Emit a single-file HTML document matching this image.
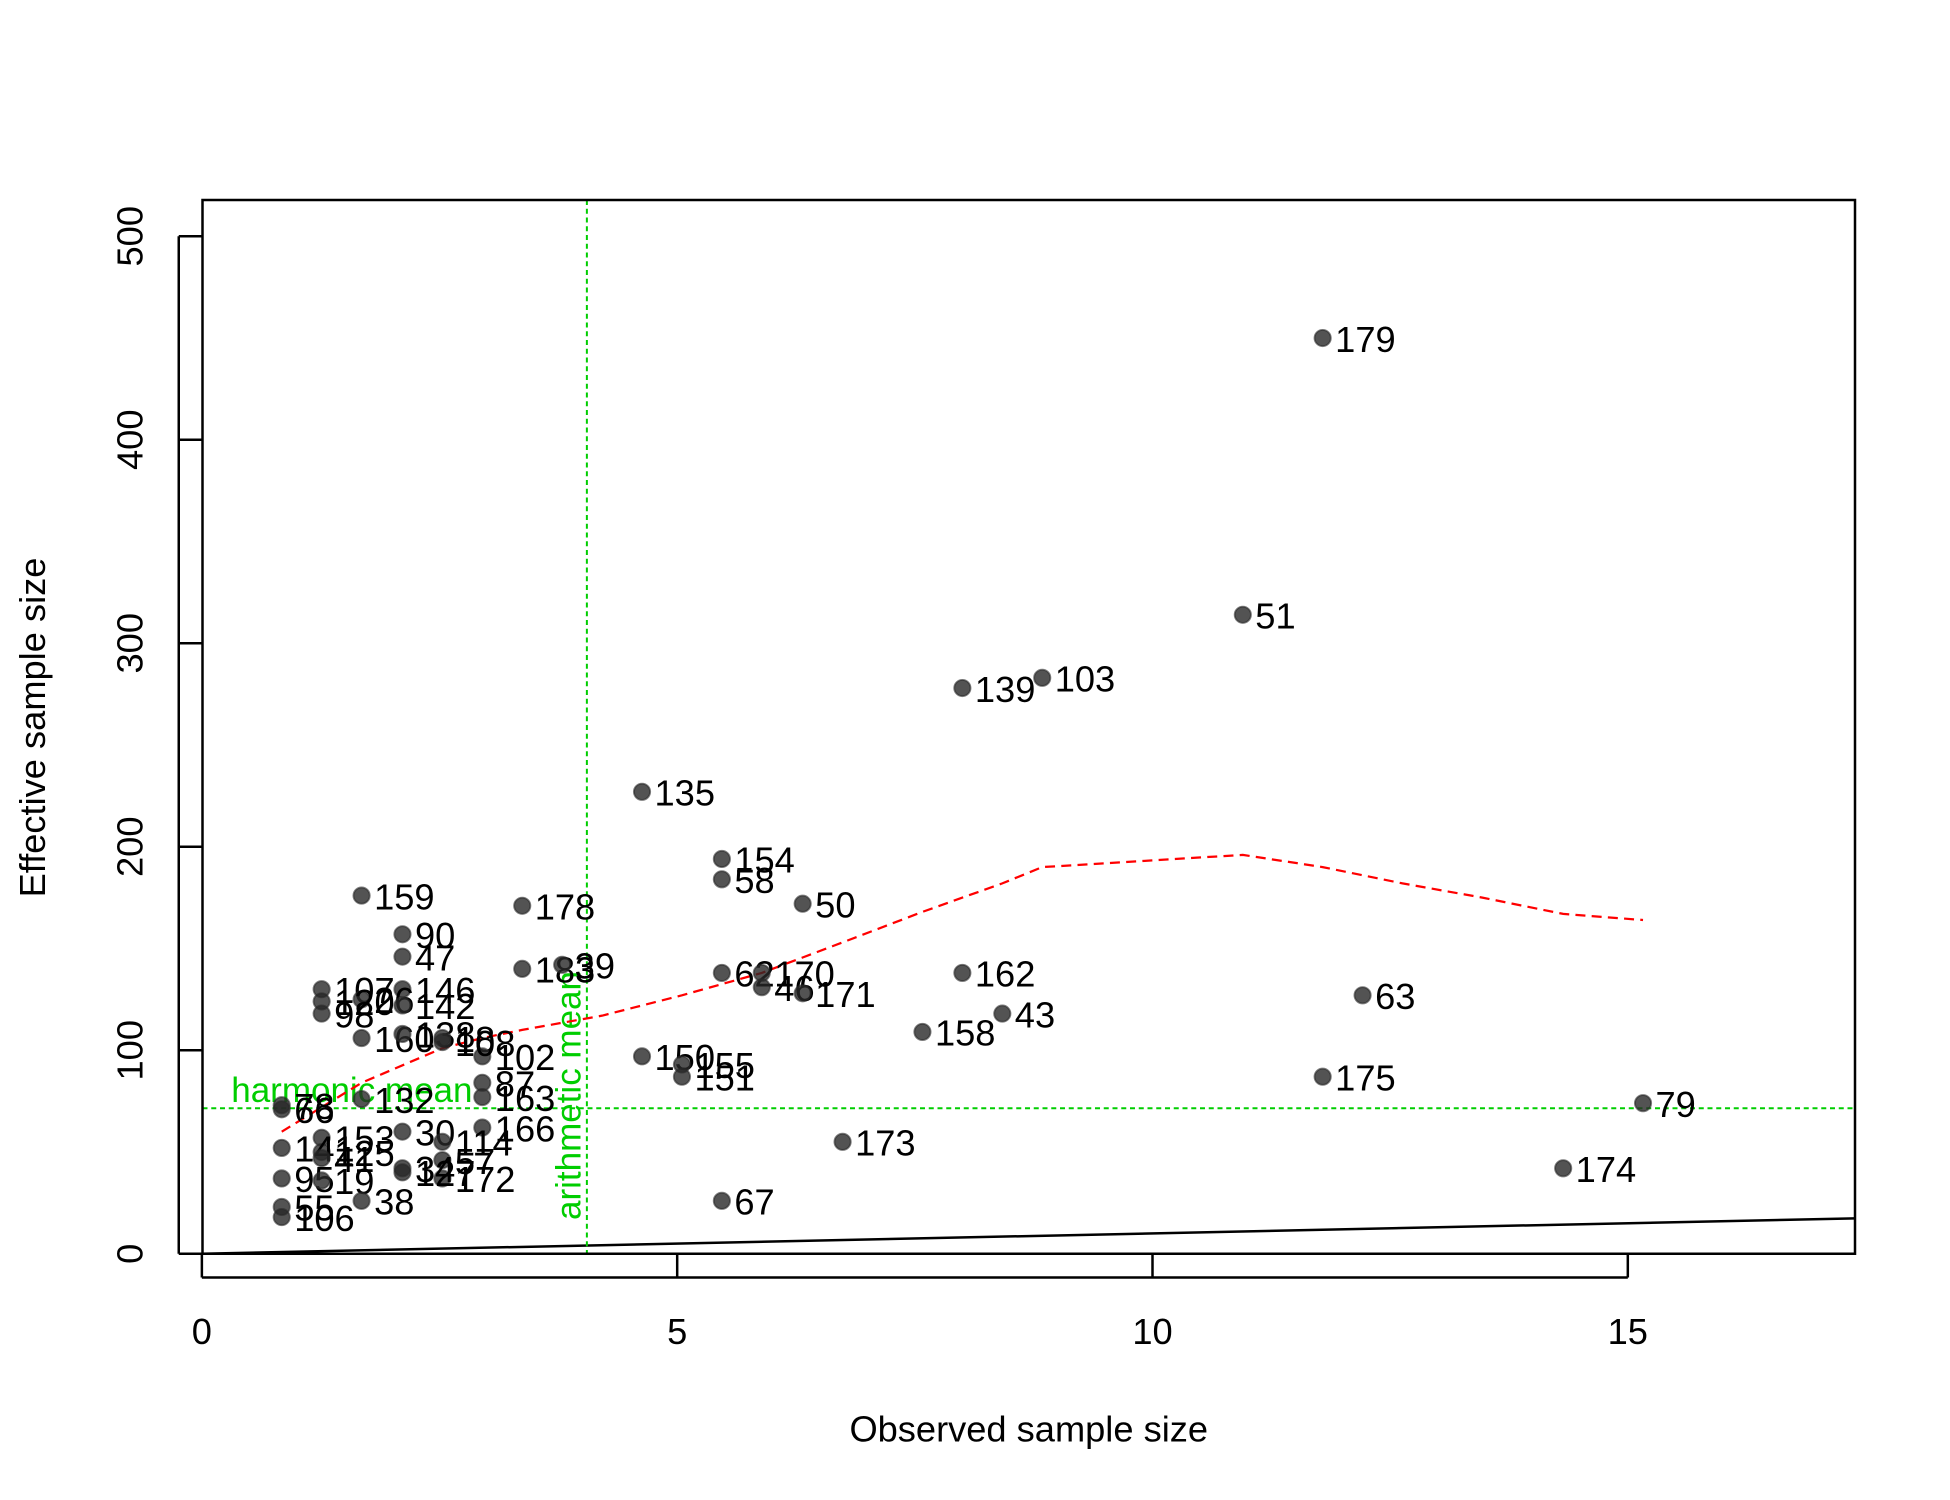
<!DOCTYPE html>
<html><head><meta charset="utf-8"><style>html,body{margin:0;padding:0;background:#fff}svg{display:block}text{font-family:"Liberation Sans",Arial,sans-serif}</style></head>
<body>
<svg id="chart" width="1950" height="1500" viewBox="0 0 1560 1200" xmlns="http://www.w3.org/2000/svg">
<rect x="0" y="0" width="1560" height="1200" fill="#fff"/>
<g id="plot"></g>
</svg>
<script>
const pointLabels = ["179","51","139","103","135","154","58","50","62","170","46","171","162","158","43","63","175","79","173","174","67","150","155","151","178","159","90","47","183","39","107","146","26","142","98","160","138","18","102","87","163","166","66","78","132","153","30","125","114","141","41","57","95","19","172","34","127","38","55","106","120","108"];
const pointX = [11.79,10.95,8.0,8.84,4.63,5.47,5.47,6.32,5.47,5.89,5.89,6.32,8.0,7.58,8.42,12.21,11.79,15.16,6.74,14.32,5.47,4.63,5.05,5.05,3.37,1.68,2.11,2.11,3.37,3.79,1.26,2.11,1.68,2.11,1.26,1.68,2.11,2.53,2.95,2.95,2.95,2.95,0.84,0.84,1.68,1.26,2.11,1.26,2.53,0.84,1.26,2.53,0.84,1.26,2.53,2.11,2.11,1.68,0.84,0.84,1.26,2.53];
const pointY = [450,314,278,283,227,194,184,172,138,138,131,128,138,109,118,127,87,74,55,42,26,97,93,87,171,176,157,146,140,142,130,130,125,122,118,106,108,106,97,84,77,62,71,73,76,57,60,50,55,52,47,46,37,36,37,42,40,26,23,18,124,104];
const smoothX = [0.84,1.68,2.53,2.95,3.37,4.21,5.05,5.89,6.74,7.58,8.42,8.84,10.95,11.79,12.63,13.47,14.32,15.16];
const smoothY = [60,84,101,106,110,117,127,138,153,168,182,190,196,190,182,175,167,164];
const yTicks = [0,100,200,300,400,500];
const xTicks = [0,5,10,15];
const harmonicMean = 71.5, arithmeticMean = 4.05;

const NS="http://www.w3.org/2000/svg";
const g=document.getElementById('plot');
const X0=161.5, XS=76.05, Y0=1003, YS=1.628;
const sx=v=>X0+v*XS, sy=v=>Y0-v*YS;
function mk(tag,attrs,parent){const e=document.createElementNS(NS,tag);for(const k in attrs)e.setAttribute(k,attrs[k]);(parent||g).appendChild(e);return e;}

// reference line y=x
let l=mk('line',{x1:sx(0),y1:sy(0),x2:1484,y2:sy((1484-X0)/XS),stroke:'#000','stroke-width':2});



// green mean lines
l=mk('line',{x1:162,y1:sy(harmonicMean),x2:1484,y2:sy(harmonicMean),stroke:'#00cd00','stroke-width':1.6,'stroke-dasharray':'4,3'});


l=mk('line',{x1:sx(arithmeticMean),y1:160,x2:sx(arithmeticMean),y2:1003,stroke:'#00cd00','stroke-width':1.6,'stroke-dasharray':'4,3'});


let t=mk('text',{x:185,y:sy(harmonicMean)-5,'font-size':28,fill:'#00cd00'});t.textContent='harmonic mean';


t=mk('text',{x:0,y:0,'font-size':28,fill:'#00cd00','text-anchor':'start',transform:`translate(${sx(arithmeticMean)-5},976) rotate(-90)`});t.textContent='arithmetic mean';



// smooth line
const p=mk('polyline',{points:smoothX.map((x,i)=>sx(x)+','+sy(smoothY[i])).join(' '),fill:'none',stroke:'#ff0000','stroke-width':1.8,'stroke-dasharray':'8,5'});



// points & labels
pointX.forEach((x,i)=>{
  const c=mk('circle',{cx:sx(x),cy:sy(pointY[i]),r:6.5,fill:'rgba(40,40,40,0.8)',stroke:'rgba(40,40,40,0.6)','stroke-width':1.5});
  
  
  const tt=mk('text',{x:sx(x)+10,y:sy(pointY[i])+11,'font-size':29,fill:'#000'});
  tt.textContent=pointLabels[i];
  
  
});

// box
const b=mk('rect',{x:162,y:160,width:1322,height:843,fill:'none',stroke:'#000','stroke-width':2});



// axes
xTicks.forEach(v=>{
  const tk=mk('line',{x1:sx(v),y1:1003,x2:sx(v),y2:1022,stroke:'#000','stroke-width':2});
  
  
  const tl=mk('text',{x:sx(v),y:1075,'font-size':29,'text-anchor':'middle'});tl.textContent=v;
  
  
});
let ax=mk('line',{x1:sx(0),y1:1022,x2:sx(15),y2:1022,stroke:'none'});
yTicks.forEach(v=>{
  const tk=mk('line',{x1:143,y1:sy(v),x2:162,y2:sy(v),stroke:'#000','stroke-width':2});
  
  
  const tl=mk('text',{x:0,y:0,'font-size':29,'text-anchor':'middle',transform:`translate(114,${sy(v)}) rotate(-90)`});tl.textContent=v;
  
  
});
ax=mk('line',{x1:143,y1:sy(0),x2:143,y2:sy(500),stroke:'#000','stroke-width':2});


ax=mk('line',{x1:sx(0),y1:1022,x2:sx(15),y2:1022,stroke:'#000','stroke-width':2});



t=mk('text',{x:823,y:1153,'font-size':29,'text-anchor':'middle'});t.textContent='Observed sample size';


t=mk('text',{x:0,y:0,'font-size':29,'text-anchor':'middle',transform:'translate(36,582) rotate(-90)'});t.textContent='Effective sample size';


</script>
</body></html>
